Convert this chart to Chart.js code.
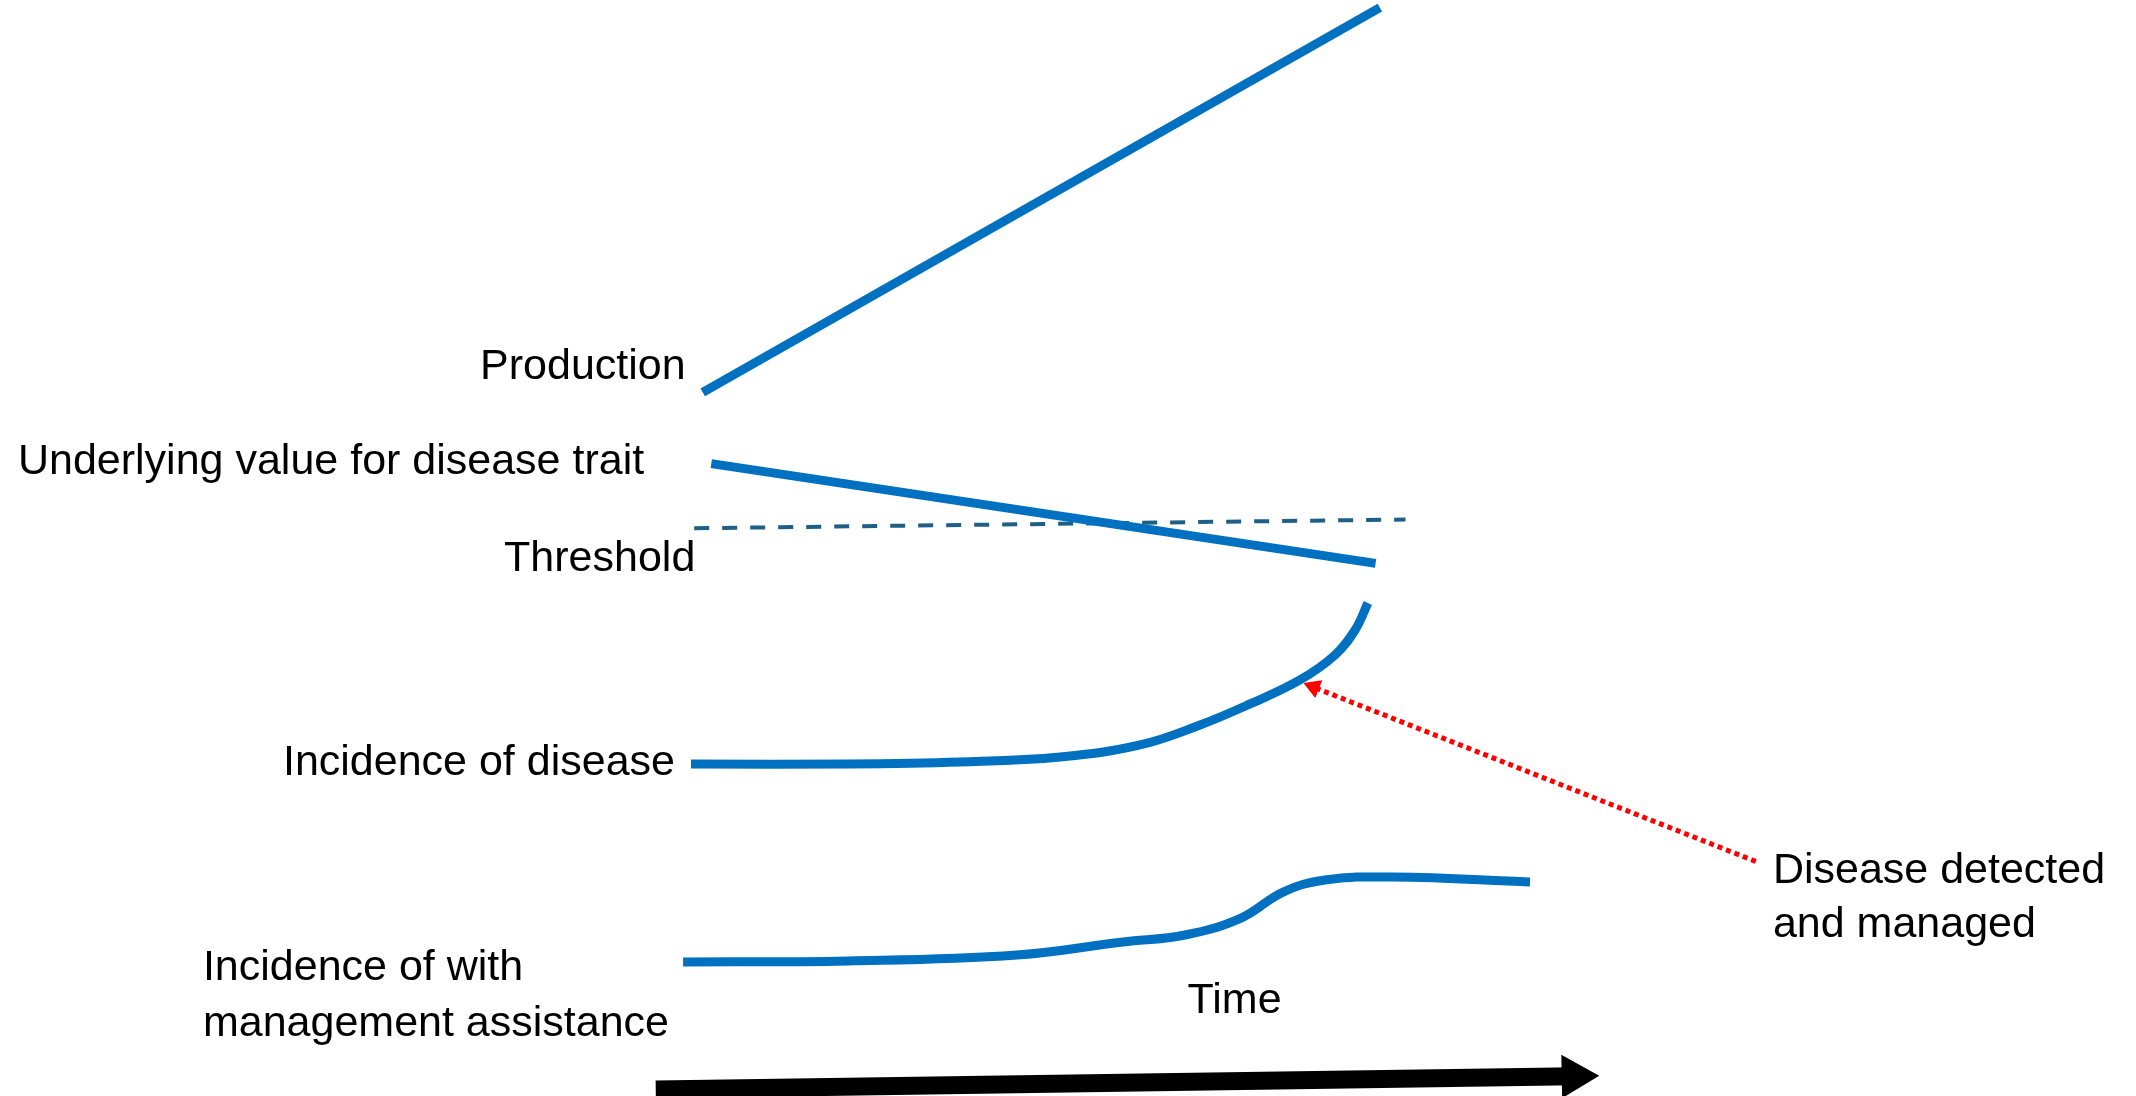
<!DOCTYPE html>
<html>
<head>
<meta charset="utf-8">
<script src="https://cdn.jsdelivr.net/npm/chart.js@4.4.1/dist/chart.umd.min.js"></script>
<style>
  html, body { margin: 0; padding: 0; background: #fff; overflow: hidden; }
  #sketch { display: block; }
</style>
</head>
<body>
<canvas id="sketch" width="2136" height="1096"></canvas>
<script>
// time runs 0..100 left to right, level 0..100 bottom to top
const productionX = [32.9, 64.6];
const productionY = [64.2, 99.3];

const traitX = [33.3, 64.4];
const traitY = [57.7, 48.6];

const thresholdX = [32.5, 65.8];
const thresholdY = [51.8, 52.6];

const incidenceX = [32.35, 39.79, 44.94, 49.63, 53.37, 56.18, 58.52, 60.86, 62.50, 63.44, 64.04];
const incidenceY = [30.29, 30.29, 30.47, 30.93, 32.03, 33.85, 35.77, 37.96, 40.24, 42.52, 44.98];

const managedX = [31.98, 39.70, 47.61, 52.57, 55.48, 58.10, 60.07, 62.03, 65.22, 71.63];
const managedY = [12.23, 12.32, 12.86, 14.05, 14.69, 16.24, 18.61, 19.71, 19.98, 19.53];

const timeArrowX = [30.7, 73.7];
const timeArrowY = [0.6, 1.8];

const pointerX = [82.2, 61.5];
const pointerY = [21.4, 37.3];

// text annotations
const noteTexts  = ['Production', 'Underlying value for disease trait', 'Threshold', 'Incidence of disease',
                    'Incidence of with', 'management assistance', 'Time', 'Disease detected', 'and managed'];
const noteX      = [32.1, 0.84, 23.6, 31.6, 9.5, 9.5, 55.6, 83.0, 83.0];
const noteY      = [66.5, 57.8, 49.0, 30.4, 11.7, 6.6, 8.7, 20.5, 15.6];
const noteAlign  = ['right', 'left', 'left', 'right', 'left', 'left', 'left', 'left', 'left'];

function pts(xs, ys) {
    return xs.map((x, i) => ({ x: x, y: ys[i] }));
}

const BLUE = '#0070C0';

// draw the labels through the scales
const notesPlugin = {
    id: 'notes',
    afterDatasetsDraw(chart) {
        const ctx = chart.ctx;
        const sx = chart.scales.x, sy = chart.scales.y;
        ctx.save();
        ctx.fillStyle = '#000';
        ctx.font = '43px "Liberation Sans", Arial, sans-serif';
        ctx.textBaseline = 'middle';
        noteTexts.forEach((t, i) => {
            ctx.textAlign = noteAlign[i];
            ctx.fillText(t, sx.getPixelForValue(noteX[i]), sy.getPixelForValue(noteY[i]));
        });
        ctx.restore();
    }
};

const ctx = document.getElementById('sketch').getContext('2d');
new Chart(ctx, {
    type: 'scatter',
    data: {
        datasets: [
            {
                label: 'Production',
                data: pts(productionX, productionY),
                showLine: true, borderColor: BLUE, borderWidth: 9, pointRadius: 0
            },
            {
                label: 'Underlying value for disease trait',
                data: pts(traitX, traitY),
                showLine: true, borderColor: BLUE, borderWidth: 9, pointRadius: 0
            },
            {
                label: 'Threshold',
                data: pts(thresholdX, thresholdY),
                showLine: true, borderColor: '#1F5F86', borderWidth: 4, borderDash: [15, 13], pointRadius: 0
            },
            {
                label: 'Incidence of disease',
                data: pts(incidenceX, incidenceY),
                showLine: true, borderColor: BLUE, borderWidth: 9, pointRadius: 0,
                tension: 0.4
            },
            {
                label: 'Incidence with management assistance',
                data: pts(managedX, managedY),
                showLine: true, borderColor: BLUE, borderWidth: 9, pointRadius: 0,
                tension: 0.4
            },
            {
                label: 'Time',
                data: pts(timeArrowX, timeArrowY),
                showLine: true, borderColor: '#000', borderWidth: 18,
                pointStyle: 'triangle', pointRadius: [0, 25], pointRotation: 88.9,
                pointBackgroundColor: '#000', pointBorderWidth: 0
            },
            {
                label: 'Disease detected and managed',
                data: pts(pointerX, pointerY),
                showLine: true, borderColor: '#FF0000', borderWidth: 5, borderDash: [5, 4],
                pointStyle: 'triangle', pointRadius: [0, 11], pointRotation: -68.3,
                pointBackgroundColor: '#FF0000', pointBorderWidth: 0
            }
        ]
    },
    options: {
        responsive: false,
        animation: false,
        devicePixelRatio: 1,
        events: [],
        layout: { padding: 0, autoPadding: false },
        plugins: { legend: { display: false }, tooltip: { enabled: false }, title: { display: false } },
        scales: {
            x: { type: 'linear', min: 0, max: 100, display: false },
            y: { type: 'linear', min: 0, max: 100, display: false }
        }
    },
    plugins: [notesPlugin]
});
</script>
</body>
</html>
